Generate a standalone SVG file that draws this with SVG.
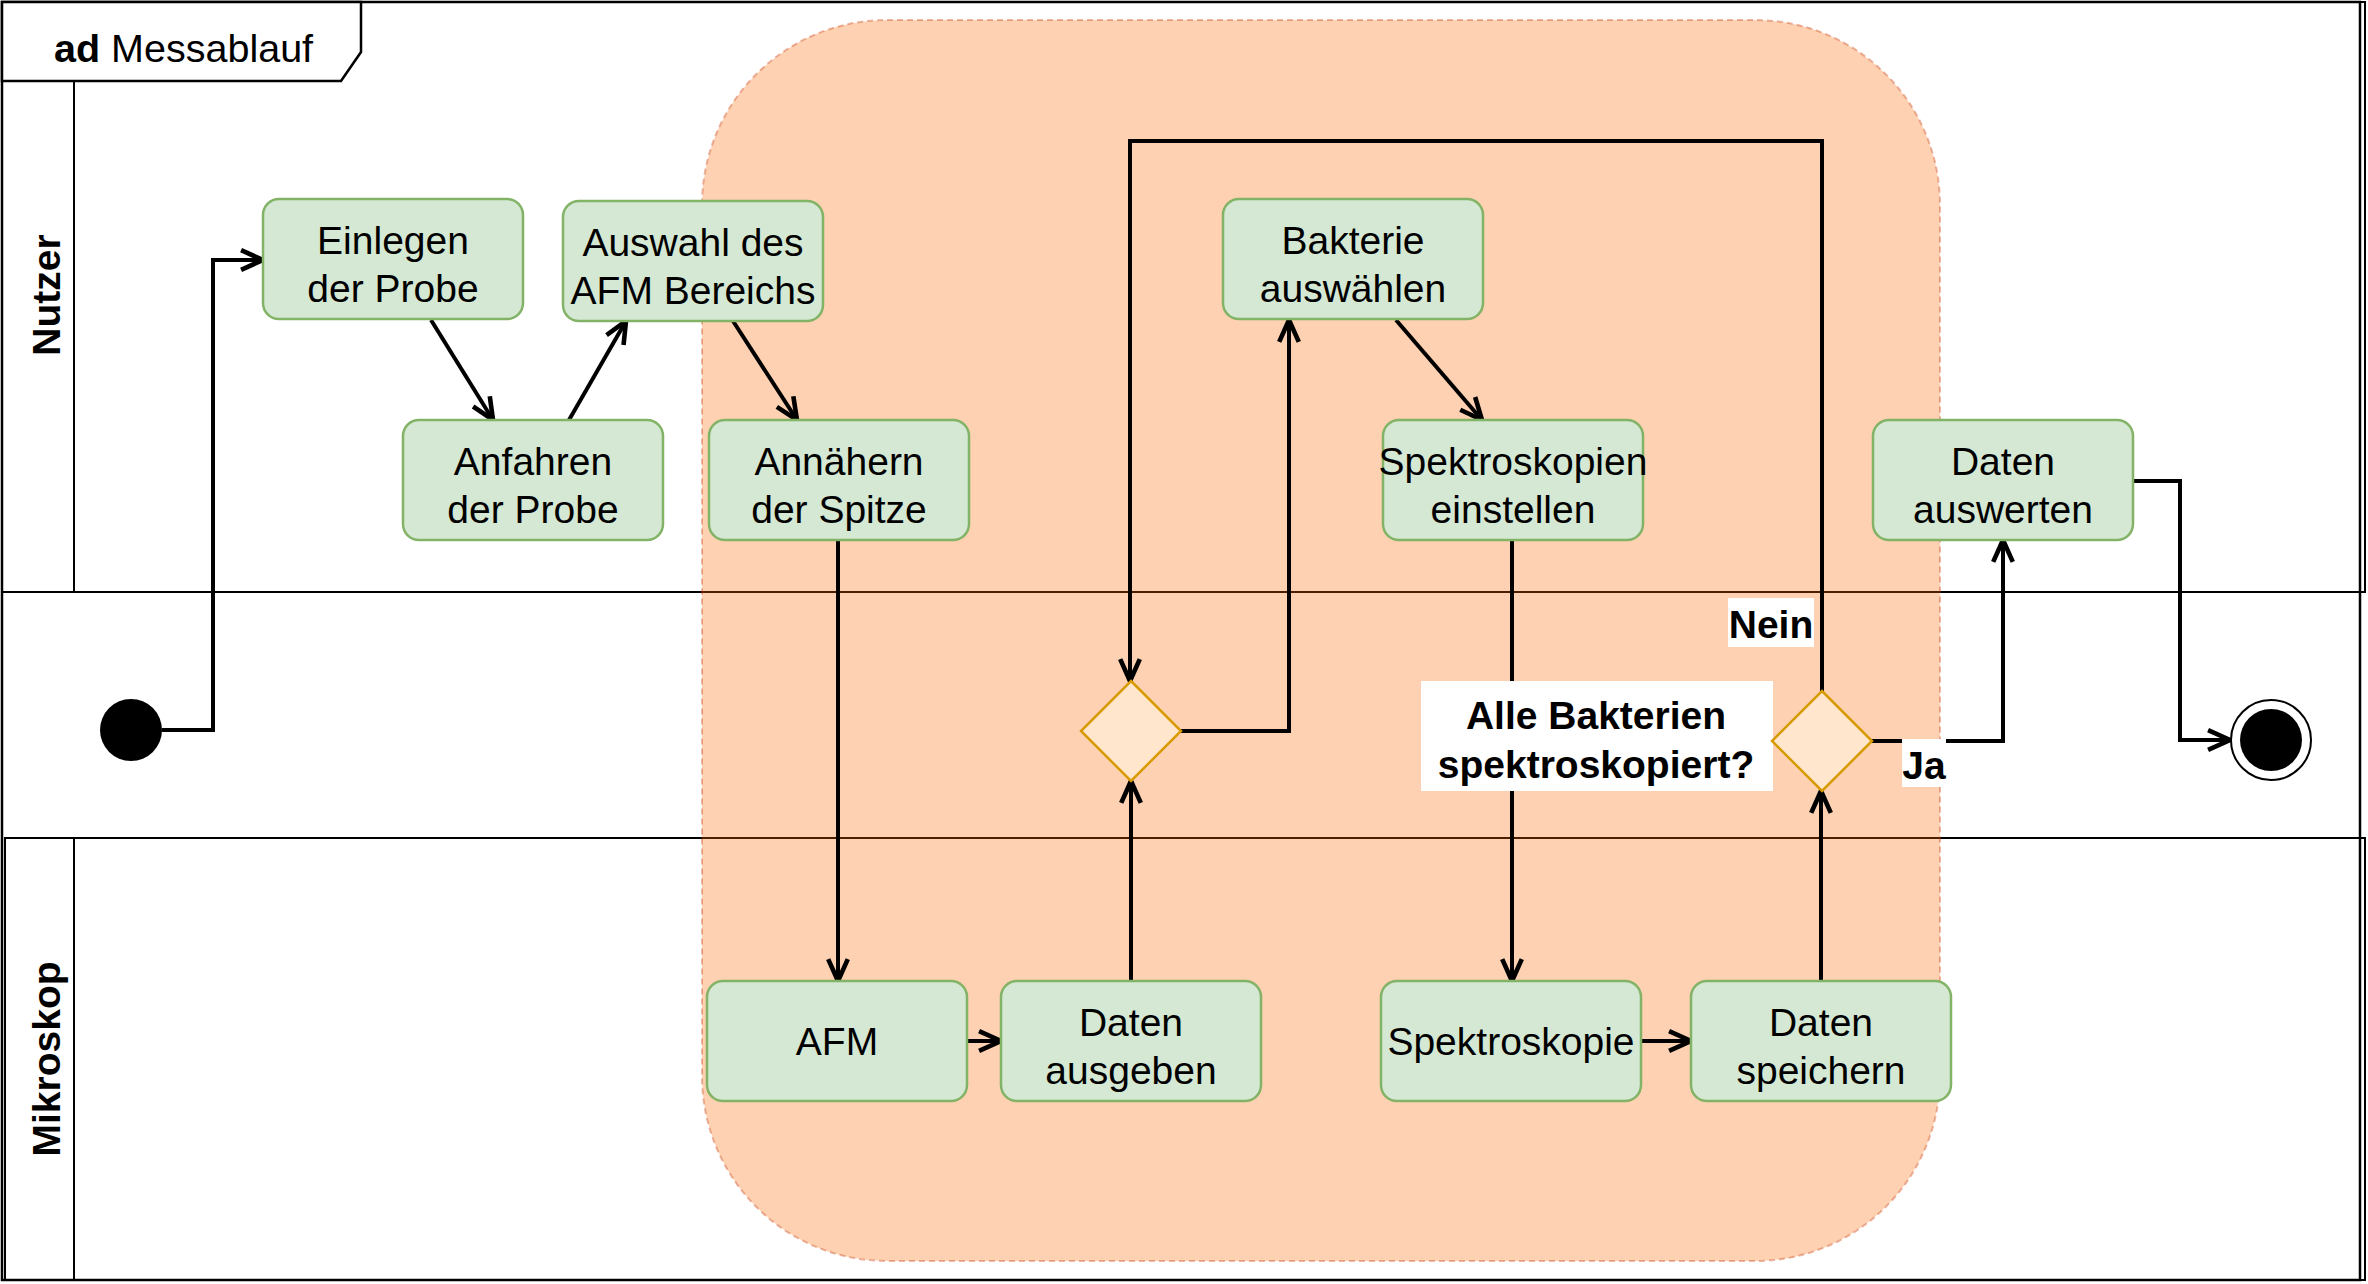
<svg xmlns="http://www.w3.org/2000/svg" width="2368" height="1284" viewBox="0 0 2368 1284">
<defs>
<style>
.lane{fill:none;stroke:#000;stroke-width:2}
.node rect{fill:#d5e8d4;stroke:#82b366;stroke-width:2.5}
.node text,.t{font-family:"Liberation Sans",Arial,sans-serif;font-size:39px;fill:#000;text-anchor:middle}
.dec{fill:#ffe6cc;stroke:#d79b00;stroke-width:2.5}
.edge{fill:none;stroke:#000;stroke-width:4;marker-end:url(#arr)}
.lbl{fill:#fff;stroke:none}
.b{font-weight:bold}
</style>
<marker id="arr" markerUnits="userSpaceOnUse" markerWidth="30" markerHeight="30" refX="0" refY="0" viewBox="-22 -12 26 24" orient="auto" overflow="visible">
<path d="M-19,-8.5 L0,0 L-19,8.5" fill="none" stroke="#000" stroke-width="4"/>
</marker>
</defs>
<rect x="0" y="0" width="2368" height="1284" fill="#fff"/>
<g id="frame">
<rect x="2" y="2" width="2358" height="1278" fill="none" stroke="#000" stroke-width="2.5"/>
</g>
<g id="lane-nutzer">
<rect class="lane" x="2" y="2" width="2363" height="590"/>
<line x1="74" y1="81" x2="74" y2="592" stroke="#000" stroke-width="2"/>
<text class="t b" transform="translate(60,295) rotate(-90)">Nutzer</text>
</g>
<g id="lane-mikroskop">
<rect class="lane" x="5" y="838" width="2360" height="442"/>
<line x1="74" y1="838" x2="74" y2="1280" stroke="#000" stroke-width="2"/>
<text class="t b" transform="translate(60,1059) rotate(-90)">Mikroskop</text>
</g>
<g id="title">
<path d="M2,2 H361 V52 L341,81 H2 Z" fill="#fff" stroke="#000" stroke-width="2.5"/>
<text x="54" y="62" font-family="Liberation Sans, Arial, sans-serif" font-size="39.5"><tspan font-weight="bold">ad</tspan> Messablauf</text>
</g>
<g id="region">
<rect x="702" y="20" width="1238" height="1241" rx="185" ry="185" fill="#fa6800" fill-opacity="0.3" stroke="#c73500" stroke-opacity="0.35" stroke-width="2" stroke-dasharray="6 4"/>
</g>
<g id="connectors">
<path class="edge" d="M162,730 H213 V260 H263"/>
<path class="edge" d="M431,320 L493,420"/>
<path class="edge" d="M569,420 L626,321"/>
<path class="edge" d="M733,321 L797,420"/>
<path class="edge" d="M838,540 V981"/>
<path class="edge" d="M967,1041 H1001"/>
<path class="edge" d="M1131,981 V781"/>
<path class="edge" d="M1181,731 H1289 V320"/>
<path class="edge" d="M1396,320 L1482,420"/>
<path class="edge" d="M1512,540 V981"/>
<path class="edge" d="M1641,1041 H1691"/>
<path class="edge" d="M1821,981 V791"/>
<path class="edge" d="M1822,691 V141 H1130 V681"/>
<path class="edge" d="M1871,741 H2003 V540"/>
<path class="edge" d="M2133,481 H2180 V740 H2230"/>
<rect class="lbl" x="1421" y="681" width="352" height="110"/>
<text class="t b" x="1596" y="729">Alle Bakterien</text>
<text class="t b" x="1596" y="778">spektroskopiert?</text>
<rect class="lbl" x="1728" y="598" width="86" height="49"/>
<text class="t b" x="1771" y="638">Nein</text>
<rect class="lbl" x="1902" y="739" width="44" height="48"/>
<text class="t b" x="1924" y="779">Ja</text>
</g>
<g id="start"><circle cx="131" cy="730" r="31" fill="#000"/></g>
<g id="end"><circle cx="2271" cy="740" r="40" fill="#fff" stroke="#000" stroke-width="2"/><circle cx="2271" cy="740" r="31" fill="#000"/></g>
<g id="n-einlegen" class="node"><rect x="263" y="199" width="260" height="120" rx="16"/><text x="393" y="254">Einlegen</text><text x="393" y="302">der Probe</text></g>
<g id="n-auswahl" class="node"><rect x="563" y="201" width="260" height="120" rx="16"/><text x="693" y="256">Auswahl des</text><text x="693" y="304">AFM Bereichs</text></g>
<g id="n-anfahren" class="node"><rect x="403" y="420" width="260" height="120" rx="16"/><text x="533" y="475">Anfahren</text><text x="533" y="523">der Probe</text></g>
<g id="n-annaehern" class="node"><rect x="709" y="420" width="260" height="120" rx="16"/><text x="839" y="475">Annähern</text><text x="839" y="523">der Spitze</text></g>
<g id="n-bakterie" class="node"><rect x="1223" y="199" width="260" height="120" rx="16"/><text x="1353" y="254">Bakterie</text><text x="1353" y="302">auswählen</text></g>
<g id="n-spekeinst" class="node"><rect x="1383" y="420" width="260" height="120" rx="16"/><text x="1513" y="475">Spektroskopien</text><text x="1513" y="523">einstellen</text></g>
<g id="n-auswerten" class="node"><rect x="1873" y="420" width="260" height="120" rx="16"/><text x="2003" y="475">Daten</text><text x="2003" y="523">auswerten</text></g>
<g id="n-afm" class="node"><rect x="707" y="981" width="260" height="120" rx="16"/><text x="837" y="1055">AFM</text></g>
<g id="n-ausgeben" class="node"><rect x="1001" y="981" width="260" height="120" rx="16"/><text x="1131" y="1036">Daten</text><text x="1131" y="1084">ausgeben</text></g>
<g id="n-spektroskopie" class="node"><rect x="1381" y="981" width="260" height="120" rx="16"/><text x="1511" y="1055">Spektroskopie</text></g>
<g id="n-speichern" class="node"><rect x="1691" y="981" width="260" height="120" rx="16"/><text x="1821" y="1036">Daten</text><text x="1821" y="1084">speichern</text></g>
<g id="d-1"><path class="dec" d="M1131,681 L1181,731 L1131,781 L1081,731 Z"/></g>
<g id="d-2"><path class="dec" d="M1822,691 L1872,741 L1822,791 L1772,741 Z"/></g>
</svg>
